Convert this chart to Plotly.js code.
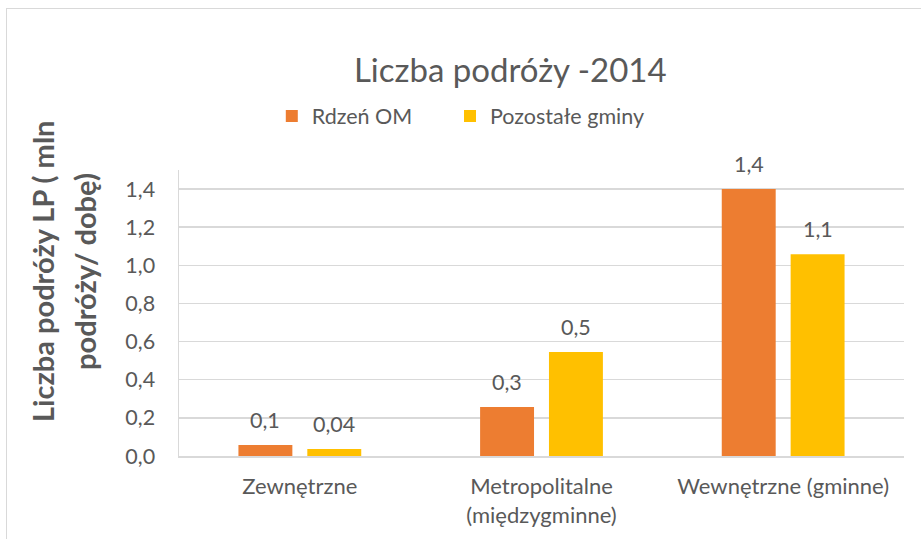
<!DOCTYPE html>
<html><head><meta charset="utf-8">
<script src="https://cdn.plot.ly/plotly-3.0.1.min.js"></script>
<style>
body{margin:0;background:#fff;overflow:hidden}
#chart{position:absolute;left:0;top:0;width:921px;height:539px}
#frame{position:absolute;left:6px;top:8px;width:940px;height:560px;border-left:1.5px solid #d9d9d9;border-top:1.5px solid #d9d9d9;pointer-events:none}
</style>
</head><body>
<div id="chart"></div><div id="frame"></div>
<script>
const categories = ['Zewnętrzne', 'Metropolitalne<br>(międzygminne)', 'Wewnętrzne (gminne)'];
const seriesNames = ['Rdzeń OM', 'Pozostałe gminy'];
const rdzenValues = [0.058, 0.257, 1.4];
const pozostaleValues = [0.037, 0.545, 1.058];
const rdzenLabels = ['0,1', '0,3', '1,4'];
const pozostaleLabels = ['0,04', '0,5', '1,1'];
const yTickVals = [0, 0.2, 0.4, 0.6, 0.8, 1.0, 1.2, 1.4];
const yTickText = ['0,0', '0,2', '0,4', '0,6', '0,8', '1,0', '1,2', '1,4'];
const titleText = 'Liczba podróży -2014';
const yTitleLines = ['Liczba podróży LP ( mln', 'podróży/ dobę)'];

const FONT = 'Lato, "Open Sans", sans-serif';
const GREY = '#595959';
const colors = ['#ED7D31', '#FFC000'];

const traces = [
  {type: 'bar', name: seriesNames[0], x: categories, y: rdzenValues, marker: {color: colors[0]}, hoverinfo: 'none', legend: 'legend'},
  {type: 'bar', name: seriesNames[1], x: categories, y: pozostaleValues, marker: {color: colors[1]}, hoverinfo: 'none', legend: 'legend2'}
];

const annotations = [];
const shifts = [-34.5, 34.5];
[[rdzenValues, rdzenLabels], [pozostaleValues, pozostaleLabels]].forEach(([vals, labs], s) => {
  vals.forEach((v, i) => {
    annotations.push({x: categories[i], y: v, xref: 'x', yref: 'y', text: labs[i], showarrow: false,
      xshift: shifts[s], yshift: 25, yanchor: 'middle', font: {family: FONT, size: 21.5, color: GREY}});
  });
});
const yTitleX = [-0.1876, -0.1297];
yTitleLines.forEach((t, i) => {
  annotations.push({x: yTitleX[i], y: 0.647, xref: 'paper', yref: 'paper', text: t, showarrow: false,
    textangle: -90, xanchor: 'center', yanchor: 'middle', font: {family: FONT, size: 29, color: GREY, weight: 'bold'}});
});

const legendBase = {orientation: 'h', y: 1.189, xanchor: 'left', yanchor: 'middle',
  font: {family: FONT, size: 21.5, color: GREY}, itemclick: false, bgcolor: 'rgba(0,0,0,0)'};

const layout = {
  width: 921, height: 539,
  margin: {l: 179, r: 17, t: 170, b: 83},
  paper_bgcolor: 'rgba(0,0,0,0)', plot_bgcolor: '#fff',
  font: {family: FONT, color: GREY},
  title: {text: titleText, xref: 'container', yref: 'container', x: 0.554, y: 0.87, xanchor: 'center', yanchor: 'middle',
    font: {family: FONT, size: 33, color: GREY}},
  barmode: 'group', bargap: 0.43, bargroupgap: 0.217,
  showlegend: true,
  legend: Object.assign({}, legendBase, {x: 0.128}),
  legend2: Object.assign({}, legendBase, {x: 0.3738}),
  xaxis: {type: 'category', showline: true, linecolor: '#d9d9d9', linewidth: 1.5, ticks: '', showgrid: false,
    tickfont: {family: FONT, size: 22, color: GREY}, ticklabelstandoff: 10},
  yaxis: {range: [0, 1.5], tickvals: yTickVals, ticktext: yTickText, showgrid: true, gridcolor: '#d9d9d9', gridwidth: 1.5,
    showline: true, linecolor: '#d9d9d9', linewidth: 1.5, zeroline: false, ticks: '',
    tickfont: {family: FONT, size: 21.5, color: GREY}, ticklabelstandoff: 18},
  annotations: annotations
};
Plotly.newPlot('chart', traces, layout, {displayModeBar: false, staticPlot: true});
</script>
</body></html>
